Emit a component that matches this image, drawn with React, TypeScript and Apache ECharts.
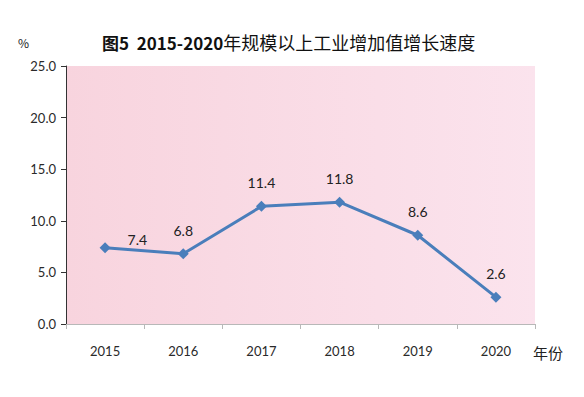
import React, { useEffect, useRef } from "react";
import * as echarts from "echarts";

const years = ["2015", "2016", "2017", "2018", "2019", "2020"];
const growth = [7.4, 6.8, 11.4, 11.8, 8.6, 2.6];
const titlePrefix = "图5  2015-2020";
const titleRest = "年规模以上工业增加值增长速度";
const yUnit = "%";
const xUnit = "年份";

export default function App() {
  const ref = useRef<HTMLDivElement>(null);
  useEffect(() => {
    if (!ref.current) return;
    const chart = echarts.init(ref.current, undefined, { renderer: "svg" });
    const font = "Lato, 'Noto Sans', sans-serif";
    chart.setOption({
      animation: false,
      backgroundColor: "#ffffff",
      title: {
        text: `{a|${titlePrefix}}{b|${titleRest}}`,
        left: 97,
        top: 28,
        textStyle: {
          rich: {
            a: { fontFamily: "'Noto Sans CJK SC', sans-serif", fontWeight: "bold", fontSize: 17, color: "#111" },
            b: { fontFamily: "'Noto Sans CJK SC', sans-serif", fontWeight: "normal", fontSize: 18, color: "#111" },
          },
        },
      },
      graphic: [
        { type: "text", left: 18, top: 36, style: { text: yUnit, font: "12px 'Noto Sans CJK SC', sans-serif", fill: "#222" } },
        { type: "text", left: 533, top: 345, style: { text: xUnit, font: "15px 'Noto Sans CJK SC', sans-serif", fill: "#222" } },
      ],
      grid: {
        left: 66,
        right: 49,
        top: 66,
        bottom: 73,
        containLabel: false,
        outerBoundsMode: "none",
        show: true,
        borderWidth: 0,
        backgroundColor: new echarts.graphic.LinearGradient(0, 0, 1, 0, [
          { offset: 0, color: "#f8d4de" },
          { offset: 1, color: "#fbe3ed" },
        ]),
      },
      xAxis: {
        type: "category",
        data: years,
        boundaryGap: true,
        axisLine: { lineStyle: { color: "#b8b8b8", width: 1 } },
        axisTick: { show: true, alignWithLabel: false, length: 5, lineStyle: { color: "#b8b8b8" } },
        axisLabel: { margin: 20, fontSize: 13, color: "#2a2a2a", fontFamily: font },
        splitLine: { show: false },
      },
      yAxis: {
        type: "value",
        min: 0,
        max: 25,
        interval: 5,
        axisLine: { show: true, lineStyle: { color: "#333", width: 1 } },
        axisTick: { show: true, length: 5, lineStyle: { color: "#333" } },
        axisLabel: { margin: 10, fontSize: 13, color: "#2a2a2a", fontFamily: font, formatter: (v: number) => v.toFixed(1) },
        splitLine: { show: false },
      },
      series: [
        {
          type: "line",
          data: growth.map((v, i) => ({
            value: v,
            label: i === 0 ? { position: "right", offset: [12, -8] } : { position: "top", distance: 11 },
          })),
          symbol: "diamond",
          symbolSize: 11,
          lineStyle: { color: "#4a7ebb", width: 3 },
          itemStyle: { color: "#4a7ebb" },
          label: {
            show: true,
            fontSize: 14,
            color: "#222",
            fontFamily: font,
            formatter: (p: any) => Number(p.value).toFixed(1),
          },
        },
      ],
    });
    return () => chart.dispose();
  }, []);
  return <div ref={ref} style={{ width: 584, height: 397, position: "absolute", left: 0, top: 0 }} />;
}
